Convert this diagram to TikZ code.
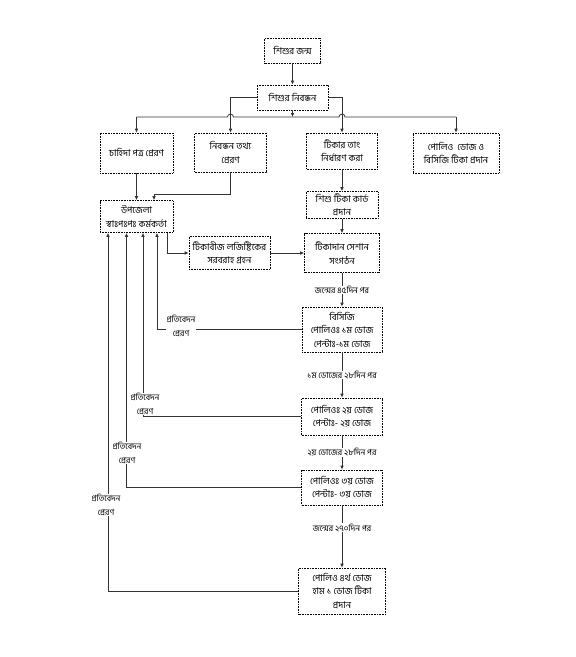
\documentclass[tikz,border=0pt]{standalone}
\usepackage{fontspec}
\newfontfamily\bn[Script=Bengali]{Hind Siliguri}
\usetikzlibrary{arrows.meta,calc}
\begin{document}
\begin{tikzpicture}[x=1pt,y=-1pt,
  box/.style={draw=black, densely dotted, line width=0.6pt, align=center,
    font=\bn\fontsize{9.3}{13.5}\selectfont, inner sep=0pt},
  conn/.style={draw=black!80, line width=0.8pt},
  arr/.style={conn, -{Latex[length=4pt,width=3.6pt]}},
  lbl/.style={fill=white, inner sep=0.4pt, align=center,
    font=\bn\fontsize{8.4}{14}\selectfont}
]
\fill[white] (0,0) rectangle (576,657);
\useasboundingbox (0,0) rectangle (576,657);

% boxes
\node[box, minimum width=56pt, minimum height=25pt] (A) at (292.5,50.5) {শিশুর জন্ম};
\node[box, minimum width=71pt, minimum height=25pt] (B) at (292.5,97.5) {শিশুর নিবন্ধন};
\node[box, minimum width=73pt, minimum height=40pt] (C) at (136.5,153) {চাহিদা পত্র প্রেরণ};
\node[box, minimum width=72pt, minimum height=39pt] (D) at (230.5,152.5) {নিবন্ধন তথ্য\\প্রেরণ};
\node[box, minimum width=71pt, minimum height=36pt] (E) at (342,151) {টিকার তাং\\নির্ধারণ করা};
\node[box, minimum width=86pt, minimum height=40pt] (F) at (456,153) {পোলিও\ \ ডোজ ও\\বিসিজি টিকা প্রদান};
\node[box, minimum width=72pt, minimum height=27pt] (G) at (342,205) {শিশু টিকা কার্ড\\প্রদান};
\node[box, minimum width=73pt, minimum height=32pt] (H) at (136.5,216.5) {উপজেলা\\স্বাঃপঃপঃ কর্মকর্তা};
\node[box, minimum width=81pt, minimum height=33pt] (I) at (229.5,253) {টিকাবীজ লজিষ্টিকের\\সরবরাহ গ্রহন};
\node[box, minimum width=75pt, minimum height=39pt] (J) at (342,253) {টিকাদান সেশান\\সংগঠন};
\node[box, minimum width=80pt, minimum height=45pt] (K) at (342,329.5) {বিসিজি\\পোলিওঃ ১ম ডোজ\\পেন্টাঃ-১ম ডোজ};
\node[box, minimum width=81pt, minimum height=37pt] (L) at (342,416.5) {পোলিওঃ ২য় ডোজ\\পেন্টাঃ- ২য় ডোজ};
\node[box, minimum width=81pt, minimum height=35pt] (M) at (342,487.5) {পোলিওঃ ৩য় ডোজ\\পেন্টাঃ- ৩য় ডোজ};
\node[box, minimum width=87pt, minimum height=46pt] (N) at (342,591) {পোলিও ৪র্থ ডোজ\\হাম ১ ডোজ টিকা\\প্রদান};

% top part
\draw[arr] (A) -- (B);
\coordinate (busC) at (292.5,117);
\coordinate (busL) at (C.north |- busC);
\coordinate (busR) at (F.north |- busC);
\draw[arr] (B.south) -- (busC);
\draw[conn] (busL) -- ($(D.north |- busC)+(-3,0)$)
  arc[start angle=180, end angle=0, radius=3pt]
  -- ($(E.north |- busC)+(-3,0)$)
  arc[start angle=180, end angle=0, radius=3pt]
  -- (busR);
\draw[arr] (busL) -- (C.north);
\draw[arr] (busR) -- (F.north);
\draw[arr] (B.west) -| (D.north);
\draw[arr] (B.east) -| (E.north);
\draw[arr] (E) -- (G);
\draw[arr] (G) -- (J);

% to upazila
\draw[arr] (C) -- (H);
\coordinate (d1) at (154,194);
\draw[arr] (D.south) |- (d1) -- (d1 |- H.north);
\draw[arr] ([xshift=30.5pt]H.south) |- (I.west);
\draw[arr] (I.east) -- (J.west);

% centre column
\draw[arr] (J) -- node[lbl] (t1) {জন্মের ৪৫দিন পর} (K);
\draw[arr] (K) -- node[lbl] (t2) {১ম ডোজের ২৮দিন পর} (L);
\draw[arr] (L) -- node[lbl] (t3) {২য় ডোজের ২৮দিন পর} (M);
\draw[arr] (M) -- node[lbl, pos=0.36] (t4) {জন্মের ২৭০দিন পর} (N);

% reports
\draw[arr] (K.west) -| ([xshift=20.5pt]H.south);
\draw[arr] (L.west) -| ([xshift=6.5pt]H.south);
\draw[arr] (M.west) -| ([xshift=-10pt]H.south);
\draw[arr] (N.west) -| ([xshift=-28.5pt]H.south);
\node[lbl] (rk) at (181,326) {প্রতিবেদন\\প্রেরণ};
\node[lbl] (rl) at (145,404) {প্রতিবেদন\\প্রেরণ};
\node[lbl] (rm) at (127,453) {প্রতিবেদন\\প্রেরণ};
\node[lbl] (rn) at (106,505) {প্রতিবেদন\\প্রেরণ};
\end{tikzpicture}
\end{document}
